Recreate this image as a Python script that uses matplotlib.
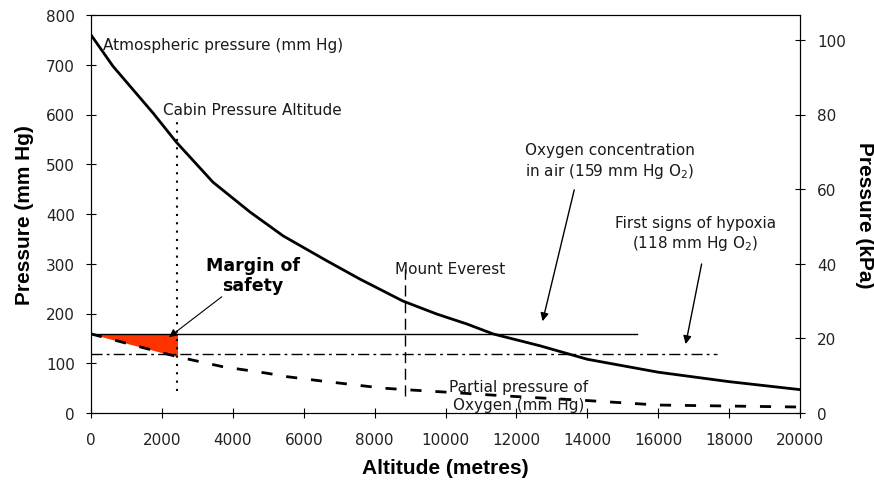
import matplotlib
matplotlib.use("Agg")
import matplotlib.pyplot as plt
import numpy as np

plt.rcParams['font.family'] = ['DejaVu Sans']

# Atmospheric pressure (mm Hg) vs altitude (m)
alt_atm = [0, 620, 1750, 2400, 3440, 4485, 5420, 6650, 7590, 8800, 9750, 10600, 11340, 12670, 14000, 16000, 18000, 20000]
p_atm = [760, 697, 603, 545, 464, 404, 356, 306, 269, 225, 199, 179, 159, 135, 108, 82, 63, 47]

# Partial pressure of oxygen (mm Hg)
alt_o2 = [0, 2440, 3720, 4960, 5530, 6540, 8230, 8850, 10000, 12000, 14000, 16000, 18000, 20000]
p_o2 = [159, 113, 93, 80, 73, 64, 50, 47, 42, 33, 25, 16, 14, 12]

o2_air = 159
hypoxia = 118
cabin_alt = 2440
everest_alt = 8848
o2_line_end = 15400
hypoxia_line_end = 17650

fig = plt.figure(figsize=(8.74, 4.81), dpi=100)
ax = fig.add_axes([91/874, 1-414/481, 709/874, 398/481])

ax.plot(alt_atm, p_atm, color='black', lw=2)
ax.plot(alt_o2, p_o2, color='black', lw=2, linestyle=(0, (4, 5)))

# margin of safety fill
xs = np.linspace(0, cabin_alt, 30)
ax.fill_between(xs, np.interp(xs, alt_o2, p_o2), o2_air, color='#FF3300', lw=0, zorder=1)

ax.plot([0, o2_line_end], [o2_air, o2_air], color='black', lw=1)
ax.plot([0, hypoxia_line_end], [hypoxia, hypoxia], color='black', lw=1, linestyle=(0, (8, 3, 2, 3)))
ax.plot([cabin_alt, cabin_alt], [45, 590], color='black', lw=1.5, linestyle=(0, (1, 3)))
ax.plot([everest_alt, everest_alt], [35, 290], color='black', lw=1, linestyle=(0, (8, 4)))

ax.set_xlim(0, 20000)
ax.set_ylim(0, 800)
ax.set_xticks(range(0, 20001, 2000))
ax.set_yticks(range(0, 801, 100))
ax.tick_params(axis='x', direction='inout', length=7, labelsize=11, pad=10, labelcolor='#222222')
ax.tick_params(axis='y', direction='inout', length=7, labelsize=11, pad=8, labelcolor='#222222')
lab_font = dict(family='Liberation Sans', fontsize=15, fontweight='bold')
ax.set_xlabel('Altitude (metres)', labelpad=8, **lab_font)
ax.set_ylabel('Pressure (mm Hg)', labelpad=9, **lab_font)

ax2 = ax.twinx()
ax2.set_ylim(0, 800/7.5)
ax2.set_yticks(range(0, 101, 20))
ax2.tick_params(direction='inout', length=7, labelsize=11, pad=9, labelcolor='#222222')
ax2.set_ylabel('Pressure (kPa)', rotation=-90, labelpad=20, **lab_font)

fs = 11
tc = '#1a1a1a'
ax.text(340, 740, 'Atmospheric pressure (mm Hg)', fontsize=fs, va='center', ha='left', color=tc)
ax.text(2030, 611, 'Cabin Pressure Altitude', fontsize=fs, va='center', ha='left', color=tc)
ax.text(14640, 507, 'Oxygen concentration\nin air (159 mm Hg O$_2$)', fontsize=fs, ha='center', va='center', linespacing=1.3, color=tc)
ax.text(17040, 360, 'First signs of hypoxia\n(118 mm Hg O$_2$)', fontsize=fs, ha='center', va='center', linespacing=1.2, color=tc)
ax.text(8575, 290, 'Mount Everest', fontsize=fs, ha='left', va='center', color=tc)
ax.text(4570, 277, 'Margin of\nsafety', fontsize=12.5, fontweight='bold', ha='center', va='center', linespacing=1.1)
ax.text(12070, 35, 'Partial pressure of\nOxygen (mm Hg)', fontsize=fs, ha='center', va='center', linespacing=1.3, color=tc)

ax.annotate('', xy=(2140, 149), xytext=(3750, 237),
            arrowprops=dict(arrowstyle='-|>', color='black', lw=0.8, mutation_scale=12))
ax.annotate('', xy=(12720, 179), xytext=(13650, 454),
            arrowprops=dict(arrowstyle='-|>', color='black', lw=1, mutation_scale=12))
ax.annotate('', xy=(16760, 133), xytext=(17240, 305),
            arrowprops=dict(arrowstyle='-|>', color='black', lw=1, mutation_scale=12))

fig.savefig('out.png', dpi=100)
